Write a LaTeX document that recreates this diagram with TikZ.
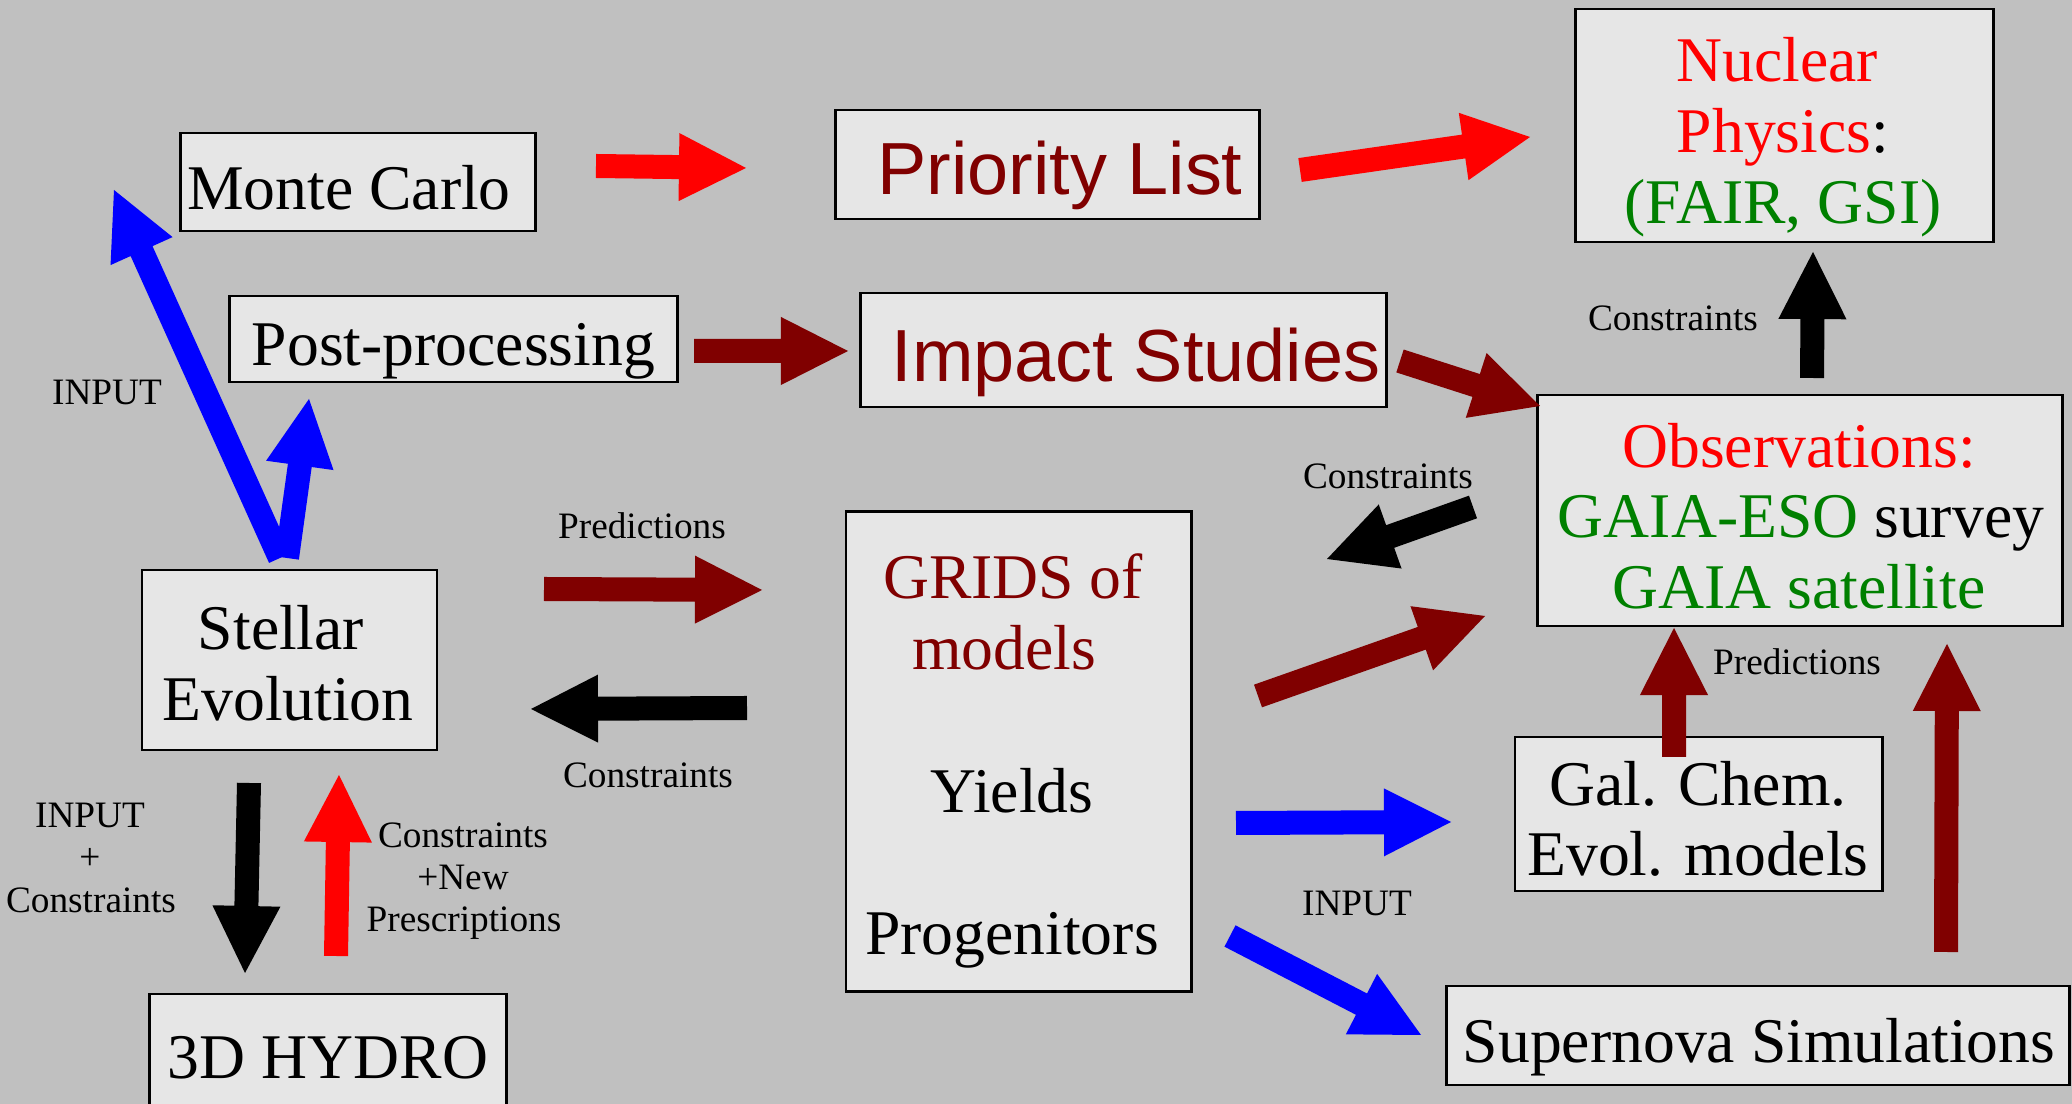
\documentclass[tikz,border=0pt]{standalone}
\usepackage{fontspec}
\setmainfont{Liberation Serif}
\newfontfamily\sansf{Liberation Sans}
\usetikzlibrary{calc}
\definecolor{bggray}{RGB}{192,192,192}
\definecolor{boxfill}{RGB}{230,230,230}
\definecolor{dkred}{RGB}{128,0,0}
\definecolor{grn}{RGB}{0,128,0}
\definecolor{rd}{RGB}{255,0,0}
\definecolor{bl}{RGB}{0,0,255}
\newcommand\arrW{0.12cm}
\newcommand\arrH{0.34cm}
\newcommand\arrL{0.67cm}
\newcommand\fatarrow[3]{%
  \coordinate (fah) at ($(#3)!\arrL!(#2)$);
  \fill[#1] ($(#2)!\arrW!90:(#3)$) -- ($(fah)!\arrW!-90:(#2)$) -- ($(fah)!\arrH!-90:(#2)$)
     -- (#3) -- ($(fah)!\arrH!90:(#2)$) -- ($(fah)!\arrW!90:(#2)$) -- ($(#2)!\arrW!-90:(#3)$) -- cycle;}
\begin{document}
\begin{tikzpicture}[x=0.01cm, y=-0.01cm,
  box/.style={draw=black, line width=0.8pt, fill=boxfill, inner sep=0pt, outer sep=0pt},
  big/.style={font=\fontsize{18.1}{20}\selectfont, anchor=base, inner sep=0pt},
  bigsans/.style={font=\sansf\fontsize{21}{24}\selectfont, anchor=base, inner sep=0pt, text=dkred},
  small/.style={font=\fontsize{10.6}{12}\selectfont, anchor=base, inner sep=0pt}]
\fill[bggray] (0,0) rectangle (2072,1104);
\useasboundingbox (0,0) rectangle (2072,1104);
\clip (0,0) rectangle (2072,1104);

% boxes
\node[box, minimum width=3.54cm, minimum height=0.98cm] (mc) at (358,182) {};
\node[box, minimum width=4.47cm, minimum height=0.86cm] (post) at (453.5,339) {};
\node[box, minimum width=4.23cm, minimum height=1.09cm] (prio) at (1047.5,164.5) {};
\node[box, minimum width=5.25cm, minimum height=1.14cm] (impact) at (1123.5,350) {};
\node[box, minimum width=4.17cm, minimum height=2.33cm] (nuc) at (1784.5,125.5) {};
\node[box, minimum width=5.24cm, minimum height=2.31cm] (obs) at (1800,510.5) {};
\node[box, minimum width=3.45cm, minimum height=4.79cm] (grids) at (1018.5,751.5) {};
\node[box, minimum width=2.95cm, minimum height=1.80cm] (stellar) at (289.5,660) {};
\node[box, minimum width=3.56cm, minimum height=1.56cm] (hydro) at (328,1072) {};
\node[box, minimum width=3.67cm, minimum height=1.54cm] (gal) at (1698.5,814) {};
\node[box, minimum width=6.22cm, minimum height=0.99cm] (sn) at (1758,1035.5) {};

% box texts
\node[big] (mct) at (349,210) {Monte Carlo};
\node[big] (postt) at (453.5,366) {Post-processing};
\node[bigsans] (priot) at (1060,195) {Priority List};
\node[bigsans] (impactt) at (1136,382) {Impact Studies};
\node[big, text=rd] (nuct1) at (1777,82) {Nuclear};
\node[big] (nuct2) at (1783,153) {\textcolor{rd}{Physics}:};
\node[big, text=grn] (nuct3) at (1783,224) {(FAIR, GSI)};
\node[big, text=rd] (obst1) at (1799,468) {Observations:};
\node[big] (obst2) at (1801,538) {\textcolor{grn}{GAIA-ESO} survey};
\node[big, text=grn] (obst3) at (1799,609) {GAIA satellite};
\node[big, text=dkred] (gridst1) at (1013,599) {GRIDS of};
\node[big, text=dkred] (gridst2) at (1004,670) {models};
\node[big] (gridst3) at (1012,813) {Yields};
\node[big] (gridst4) at (1012,955) {Progenitors};
\node[big] (stellart1) at (281,650) {Stellar};
\node[big] (stellart2) at (288,721) {Evolution};
\node[big] (hydrot) at (328,1079) {3D HYDRO};
\node[big] (galt1) at (1698,806) {Gal. Chem.};
\node[big] (galt2) at (1698,876) {Evol. models};
\node[big] (snt) at (1759,1063) {Supernova Simulations};

% small labels
\node[small] (l1) at (107,405) {INPUT};
\node[small] (l2) at (642,539) {Predictions};
\node[small] (l3) at (648,788) {Constraints};
\node[small] (l4a) at (90,828) {INPUT};
\node[small] (l4b) at (90,870) {+};
\node[small] (l4c) at (91,913) {Constraints};
\node[small] (l5a) at (463,848) {Constraints};
\node[small] (l5b) at (463,890) {+New};
\node[small] (l5c) at (464,932) {Prescriptions};
\node[small] (l6) at (1673,331) {Constraints};
\node[small] (l7) at (1388,489) {Constraints};
\node[small] (l8) at (1797,675) {Predictions};
\node[small] (l9) at (1357,916) {INPUT};

% arrow end points
\coordinate (a1s) at (596,166);  \coordinate (a1e) at (746,168);
\coordinate (a2s) at (694,351);  \coordinate (a2e) at (848,351);
\coordinate (a3s) at (280,558);  \coordinate (a3e) at (114,190);
\coordinate (a4s) at (287,558);  \coordinate (a4e) at (309,399);
\coordinate (a5s) at (544,589);  \coordinate (a5e) at (762,590);
\coordinate (a6s) at (747,708);  \coordinate (a6e) at (531,709);
\coordinate (a7s) at (249,783);  \coordinate (a7e) at (245,973);
\coordinate (a8s) at (336,956);  \coordinate (a8e) at (339,775);
\coordinate (a9s) at (1300,170); \coordinate (a9e) at (1530,137);
\coordinate (a10s) at (1400,361); \coordinate (a10e) at (1540,406);
\coordinate (a11s) at (1812,378); \coordinate (a11e) at (1813,252);
\coordinate (a12s) at (1473,507); \coordinate (a12e) at (1327,559);
\coordinate (a13s) at (1258,696); \coordinate (a13e) at (1485,616);
\coordinate (a14s) at (1236,823); \coordinate (a14e) at (1451,822);
\coordinate (a15s) at (1230,936); \coordinate (a15e) at (1421,1035);
\coordinate (a16s) at (1674,757); \coordinate (a16e) at (1674,628);
\coordinate (a17s) at (1946,952); \coordinate (a17e) at (1947,644);

\fatarrow{rd}{a1s}{a1e}
\fatarrow{dkred}{a2s}{a2e}
\fatarrow{bl}{a3s}{a3e}
\fatarrow{bl}{a4s}{a4e}
\fatarrow{dkred}{a5s}{a5e}
\fatarrow{black}{a6s}{a6e}
\fatarrow{black}{a7s}{a7e}
\fatarrow{rd}{a8s}{a8e}
\fatarrow{rd}{a9s}{a9e}
\fatarrow{dkred}{a10s}{a10e}
\fatarrow{black}{a11s}{a11e}
\fatarrow{black}{a12s}{a12e}
\fatarrow{dkred}{a13s}{a13e}
\fatarrow{bl}{a14s}{a14e}
\fatarrow{bl}{a15s}{a15e}
\fatarrow{dkred}{a16s}{a16e}
\fatarrow{dkred}{a17s}{a17e}
\end{tikzpicture}
\end{document}
